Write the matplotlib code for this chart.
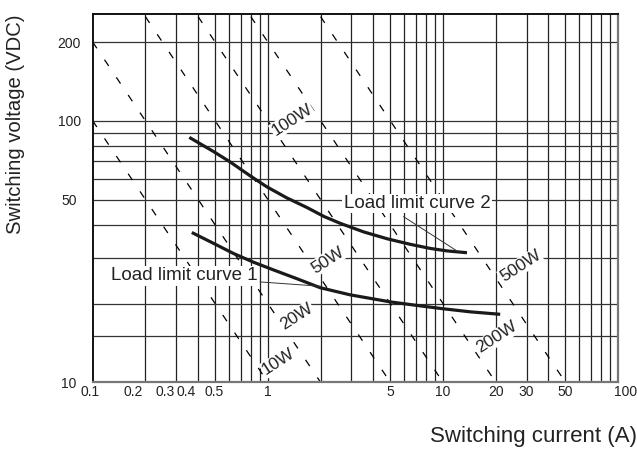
import numpy as np
import matplotlib
matplotlib.use("Agg")
import matplotlib.pyplot as plt
import matplotlib.transforms as mtransforms

plt.rcParams['font.family'] = ['Liberation Sans', 'DejaVu Sans']

# constant power lines
powers = [10, 20, 50, 100, 200, 500]
power_labels = ['10W', '20W', '50W', '100W', '200W', '500W']
power_label_i = [1.15, 1.465, 2.19, 1.377, 20.35, 27.65]
power_label_v = [11.99, 17.8, 29.3, 100.6, 14.86, 27.8]
current_range = [0.1, 100]

# load limit curves (A, VDC)
curve1_i = [0.368, 0.489, 0.636, 0.827, 1.077, 1.465, 1.99, 2.95, 5.0, 7.42, 10.08, 14.3, 21.2]
curve1_v = [37.4, 34.0, 31.1, 28.8, 26.9, 24.9, 23.0, 21.6, 20.3, 19.6, 19.1, 18.6, 18.2]
curve2_i = [0.356, 0.489, 0.609, 0.792, 0.987, 1.284, 1.671, 2.1, 2.6, 3.52, 4.79, 6.50, 8.46, 10.54, 13.7]
curve2_v = [86.4, 76.3, 69.6, 61.6, 55.9, 50.7, 46.6, 43.0, 40.5, 37.6, 35.4, 33.7, 32.5, 31.8, 31.3]

# curve labels and leader lines
curve_labels = ['Load limit curve 1', 'Load limit curve 2']
curve_label_i = [0.332, 7.10]
curve_label_v = [25.5, 48.3]
leader1_i = [0.904, 1.99]
leader1_v = [24.2, 23.3]
leader2_i = [5.96, 12.0]
leader2_v = [42.96, 31.8]

# axes ticks / grid
x_grid = [0.2, 0.3, 0.4, 0.5, 0.6, 0.7, 0.8, 0.9, 1, 2, 3, 4, 5, 6, 7, 8, 9, 10,
          20, 30, 40, 50, 60, 70, 80, 90]
y_grid = [15, 20, 30, 40, 50, 60, 70, 80, 90, 100, 200]
x_ticks = [0.1, 0.2, 0.3, 0.4, 0.5, 1, 5, 10, 20, 30, 50, 100]
x_tick_labels = ['0.1', '0.2', '0.3', '0.4', '0.5', '1', '5', '10', '20', '30', '50', '100']
y_ticks = [10, 50, 100, 200]
y_tick_labels = ['10', '50', '100', '200']

fig = plt.figure(figsize=(6.37, 4.5), dpi=100)
ax = fig.add_axes([0.1455, 0.1504, 0.9705 - 0.1455, 0.9689 - 0.1504])
ax.set_xscale('log')
ax.set_yscale('log')
ax.set_xlim(0.1, 100)
ax.set_ylim(10, 256)

for gx in x_grid:
    ax.axvline(gx, color='#222222', lw=0.9, zorder=1)
for gy in y_grid:
    ax.axhline(gy, color='#333333', lw=0.9, zorder=1)

# dashed power lines
for p in powers:
    ax.plot(current_range, [p / c for c in current_range], color='black', lw=0.9,
            linestyle=(0, (6, 11)), zorder=2)
for lab, li, lv in zip(power_labels, power_label_i, power_label_v):
    ax.text(li, lv, lab, rotation=33, ha='center', va='center', fontsize=12.5,
            color='#222222', rotation_mode='anchor', zorder=4,
            bbox=dict(facecolor='white', edgecolor='none', pad=0.6))

ax.plot(curve1_i, curve1_v, color='#1a1a1a', lw=2.3, solid_capstyle='butt', zorder=5)
ax.plot(curve2_i, curve2_v, color='#1a1a1a', lw=2.3, solid_capstyle='butt', zorder=5)
ax.plot(leader1_i, leader1_v, color='#333333', lw=0.7, zorder=5)
ax.plot(leader2_i, leader2_v, color='#333333', lw=0.7, zorder=5)
for lab, li, lv in zip(curve_labels, curve_label_i, curve_label_v):
    ax.text(li, lv, lab, ha='center', va='center', fontsize=13.5, color='#222222', zorder=6,
            bbox=dict(facecolor='white', edgecolor='none', pad=1.0))

ax.set_xticks(x_ticks)
ax.set_xticklabels(x_tick_labels)
ax.set_yticks(y_ticks)
ax.set_yticklabels(y_tick_labels)
ax.xaxis.set_minor_locator(matplotlib.ticker.NullLocator())
ax.yaxis.set_minor_locator(matplotlib.ticker.NullLocator())
ax.tick_params(axis='x', length=0, pad=2, labelsize=10, labelcolor='#222222')
ax.tick_params(axis='y', length=0, pad=17, labelsize=10, labelcolor='#222222')
for lbl in ax.get_yticklabels():
    lbl.set_horizontalalignment('center')

# shift crowded x labels like the original
x_shift_px = {0.1: -3, 0.2: -12, 0.3: -11, 0.4: -12, 0.5: -1, 100: 7}
for tick, val in zip(ax.xaxis.get_major_ticks(), x_ticks):
    if val in x_shift_px:
        off = mtransforms.ScaledTranslation(x_shift_px[val] / 100, 0, fig.dpi_scale_trans)
        tick.label1.set_transform(tick.label1.get_transform() + off)

for side in ['top', 'left']:
    ax.spines[side].set_linewidth(1.4)
    ax.spines[side].set_color('#111111')
for side in ['bottom', 'right']:
    ax.spines[side].set_linewidth(1.6)
    ax.spines[side].set_color('#777777')

ax.set_xlabel('Switching current (A)', fontsize=16, color='#222222', loc='right')
ax.xaxis.set_label_coords(1.036, -0.118)
ax.set_ylabel('Switching voltage (VDC)', fontsize=14.6, color='#222222')
ax.yaxis.set_label_coords(-0.128, 0.7)

fig.savefig('out.png', dpi=100)
